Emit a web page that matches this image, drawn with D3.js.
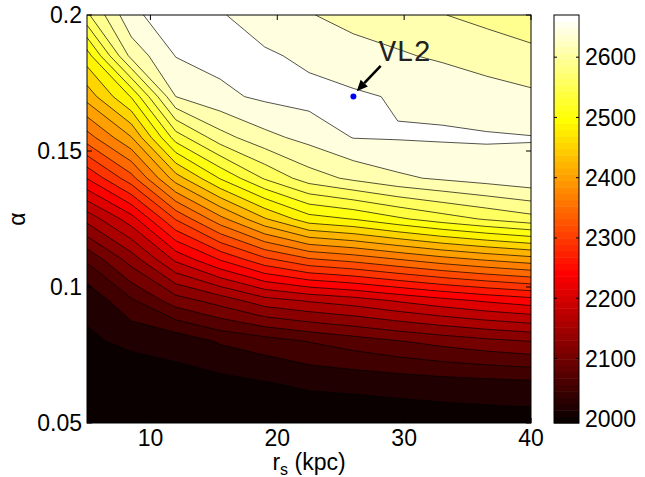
<!DOCTYPE html>
<html>
<head>
<meta charset="utf-8">
<script src="https://cdn.jsdelivr.net/npm/d3@7"></script>
<style>
  body { margin: 0; background: #fff; }
  svg { display: block; font-family: "Liberation Sans", Arial, sans-serif; }
  .mono { font-family: "Liberation Mono", "DejaVu Sans Mono", monospace; }
</style>
</head>
<body>
<script>
//wrap everything in a self-executing function to keep it local
(function () {

    //grid of the contour map: r_s columns, alpha rows
    var rsValues = [5, 8.5, 12, 15.5, 19, 22.5, 26, 29.5, 33, 36.5, 40];
    var alphaValues = [0.05, 0.065, 0.08, 0.095, 0.11, 0.125, 0.14, 0.155, 0.17, 0.185, 0.2];

    //one row per alpha (bottom to top), one value per r_s
    var zRows = [
        [1993, 1995, 1996, 1996, 1997, 1997, 1998, 2000, 2002, 2004, 2005],
        [2005, 2008, 2012, 2012, 2019, 2026, 2029, 2033, 2037, 2040, 2043],
        [2017, 2024, 2028, 2050, 2061, 2075, 2087, 2099, 2110, 2120, 2128],
        [2025, 2070, 2115, 2140, 2172, 2186, 2197, 2213, 2228, 2241, 2252],
        [2078, 2140, 2215, 2265, 2310, 2340, 2353, 2370, 2387, 2401, 2413],
        [2165, 2225, 2320, 2390, 2450, 2496, 2509, 2530, 2549, 2565, 2579],
        [2265, 2335, 2440, 2510, 2565, 2603, 2622, 2638, 2647, 2655, 2663],
        [2360, 2425, 2548, 2605, 2635, 2652, 2671, 2672, 2673, 2673, 2671],
        [2437, 2510, 2643, 2664, 2675, 2680, 2675, 2667, 2663, 2652, 2648],
        [2495, 2625, 2671, 2678, 2675, 2663, 2650, 2646, 2639, 2634, 2625],
        [2584, 2664, 2686, 2673, 2652, 2644, 2637, 2628, 2617, 2607, 2596]
    ];

    //contour levels
    var levels = [2020, 2047, 2074, 2101, 2128, 2156, 2183, 2210, 2237, 2264,
                  2291, 2318, 2345, 2372, 2399, 2426, 2453, 2480, 2508, 2535,
                  2562, 2589, 2616, 2643, 2670];
    var colorMin = 1993, colorMax = 2670;

    //tick values
    var xTicks = [10, 20, 30, 40];
    var yTicks = [0.05, 0.1, 0.15, 0.2];
    var yTickLabels = ["0.05", "0.1", "0.15", "0.2"];
    var cbTicks = [2000, 2100, 2200, 2300, 2400, 2500, 2600];

    //VL2 marker, arrow (tail, head) and label, in data units
    var vl2Point = [26, 0.17];
    var vl2Arrow = [[28.15, 0.1813], [26.26, 0.1720]];
    var vl2Label = [28.0, 0.1832];

    var width = 645, height = 477;
    var plot = {left: 87, right: 531, top: 15, bottom: 423};
    var cbar = {left: 554, right: 579};

    var svg = d3.select("body")
        .append("svg")
        .attr("width", width)
        .attr("height", height);

    var x = d3.scaleLinear().domain([5, 40]).range([plot.left, plot.right]);
    var y = d3.scaleLinear().domain([0.05, 0.2]).range([plot.bottom, plot.top]);

    //d3.contours puts sample i at i + 0.5
    var nx = rsValues.length, ny = alphaValues.length;
    var gx = d3.scaleLinear().domain([0.5, nx - 0.5]).range([x(rsValues[0]), x(rsValues[nx - 1])]);
    var gy = d3.scaleLinear().domain([0.5, ny - 0.5]).range([y(alphaValues[0]), y(alphaValues[ny - 1])]);

    var path = d3.geoPath(d3.geoTransform({
        point: function (px, py) { this.stream.point(gx(px), gy(py)); }
    }));

    var values = [];
    zRows.forEach(function (row) { values = values.concat(row); });
    var contours = d3.contours().size([nx, ny]).thresholds(levels)(values);

    //matlab hot(64)
    function hot(i) {
        var r = i <= 24 ? i / 24 : 1,
            g = i <= 24 ? 0 : (i <= 48 ? (i - 24) / 24 : 1),
            b = i <= 48 ? 0 : (i - 48) / 16;
        return d3.rgb(r * 255, g * 255, b * 255).toString();
    }
    function colorIndex(v) {
        var i = Math.floor((v - colorMin) / (colorMax - colorMin) * 64 + 1e-9) + 1;
        return Math.max(1, Math.min(64, i));
    }

    svg.append("clipPath")
        .attr("id", "plotClip")
        .append("rect")
        .attr("x", plot.left)
        .attr("y", plot.top)
        .attr("width", plot.right - plot.left)
        .attr("height", plot.bottom - plot.top);

    var map = svg.append("g").attr("clip-path", "url(#plotClip)");

    //lowest band
    map.append("rect")
        .attr("x", plot.left)
        .attr("y", plot.top)
        .attr("width", plot.right - plot.left)
        .attr("height", plot.bottom - plot.top)
        .attr("fill", hot(1));

    map.selectAll(".band")
        .data(contours)
        .enter()
        .append("path")
        .attr("class", "band")
        .attr("d", path)
        .attr("fill", function (d) { return hot(colorIndex(d.value)); })
        .attr("stroke", "none");

    map.selectAll(".isoline")
        .data(contours)
        .enter()
        .append("path")
        .attr("class", "isoline")
        .attr("d", path)
        .attr("fill", "none")
        .attr("stroke", "#000")
        .attr("stroke-opacity", 0.85)
        .attr("stroke-width", 0.8);

    //axes box and inward ticks
    var tickLen = 5;
    var axes = svg.append("g").attr("stroke", "#000").attr("stroke-width", 1).attr("fill", "none");
    axes.append("rect")
        .attr("x", plot.left)
        .attr("y", plot.top)
        .attr("width", plot.right - plot.left)
        .attr("height", plot.bottom - plot.top);
    xTicks.forEach(function (t) {
        axes.append("line").attr("x1", x(t)).attr("x2", x(t)).attr("y1", plot.bottom).attr("y2", plot.bottom - tickLen);
        axes.append("line").attr("x1", x(t)).attr("x2", x(t)).attr("y1", plot.top).attr("y2", plot.top + tickLen);
    });
    yTicks.forEach(function (t) {
        axes.append("line").attr("x1", plot.left).attr("x2", plot.left + tickLen).attr("y1", y(t)).attr("y2", y(t));
        axes.append("line").attr("x1", plot.right).attr("x2", plot.right - tickLen).attr("y1", y(t)).attr("y2", y(t));
    });

    var fontSize = 23;
    svg.selectAll(".xlab")
        .data(xTicks)
        .enter()
        .append("text")
        .attr("x", function (d) { return x(d); })
        .attr("y", plot.bottom + 23)
        .attr("text-anchor", "middle")
        .attr("font-size", fontSize)
        .text(function (d) { return d; });

    svg.selectAll(".ylab")
        .data(yTicks)
        .enter()
        .append("text")
        .attr("x", plot.left - 5)
        .attr("y", function (d) { return y(d); })
        .attr("dy", "0.36em")
        .attr("text-anchor", "end")
        .attr("font-size", fontSize)
        .text(function (d, i) { return yTickLabels[i]; });

    //axis titles
    var xTitle = svg.append("text")
        .attr("x", (plot.left + plot.right) / 2)
        .attr("y", 470)
        .attr("text-anchor", "middle")
        .attr("font-size", fontSize);
    xTitle.append("tspan").text("r");
    xTitle.append("tspan").attr("dy", 5).attr("font-size", 16).text("s");
    xTitle.append("tspan").attr("dy", -5).text(" (kpc)");

    svg.append("text")
        .attr("transform", "translate(25," + ((plot.top + plot.bottom) / 2) + ") rotate(-90)")
        .attr("text-anchor", "middle")
        .attr("font-size", fontSize)
        .text("\u03b1");

    //VL2 annotation
    svg.append("circle")
        .attr("cx", x(vl2Point[0]))
        .attr("cy", y(vl2Point[1]))
        .attr("r", 3)
        .attr("fill", "#0000ff");

    var ax0 = x(vl2Arrow[0][0]), ay0 = y(vl2Arrow[0][1]),
        ax1 = x(vl2Arrow[1][0]), ay1 = y(vl2Arrow[1][1]);
    var ang = Math.atan2(ay1 - ay0, ax1 - ax0), headLen = 11, headW = 5;
    var bx = ax1 - headLen * Math.cos(ang), by = ay1 - headLen * Math.sin(ang);
    svg.append("line")
        .attr("x1", ax0).attr("y1", ay0)
        .attr("x2", bx).attr("y2", by)
        .attr("stroke", "#000")
        .attr("stroke-width", 2.6);
    svg.append("polygon")
        .attr("points", [
            [ax1, ay1],
            [bx + headW * Math.sin(ang), by - headW * Math.cos(ang)],
            [bx - headW * Math.sin(ang), by + headW * Math.cos(ang)]
        ].map(function (p) { return p.join(","); }).join(" "))
        .attr("fill", "#000");

    svg.append("text")
        .attr("class", "mono")
        .attr("x", x(vl2Label[0]))
        .attr("y", y(vl2Label[1]))
        .attr("font-size", 29)
        .attr("fill", "#222")
        .text("VL2");

    //colorbar
    var cb = d3.scaleLinear().domain([colorMin, colorMax]).range([plot.bottom, plot.top]);
    var steps = d3.range(64);
    svg.selectAll(".cbstep")
        .data(steps)
        .enter()
        .append("rect")
        .attr("class", "cbstep")
        .attr("x", cbar.left)
        .attr("width", cbar.right - cbar.left)
        .attr("y", function (i) { return cb(colorMin + (i + 1) * (colorMax - colorMin) / 64); })
        .attr("height", function (i) { return cb(colorMin + i * (colorMax - colorMin) / 64) - cb(colorMin + (i + 1) * (colorMax - colorMin) / 64) + 0.5; })
        .attr("fill", function (i) { return hot(i + 1); });

    var cbAxes = svg.append("g").attr("stroke", "#000").attr("stroke-width", 1).attr("fill", "none");
    cbAxes.append("rect")
        .attr("x", cbar.left)
        .attr("y", plot.top)
        .attr("width", cbar.right - cbar.left)
        .attr("height", plot.bottom - plot.top);
    cbTicks.forEach(function (t) {
        cbAxes.append("line").attr("x1", cbar.left).attr("x2", cbar.left + 3).attr("y1", cb(t)).attr("y2", cb(t));
        cbAxes.append("line").attr("x1", cbar.right).attr("x2", cbar.right - 3).attr("y1", cb(t)).attr("y2", cb(t));
    });

    svg.selectAll(".cblab")
        .data(cbTicks)
        .enter()
        .append("text")
        .attr("x", cbar.right + 6)
        .attr("y", function (d) { return cb(d); })
        .attr("dy", "0.36em")
        .attr("font-size", fontSize)
        .text(function (d) { return d; });

})();
</script>
</body>
</html>
